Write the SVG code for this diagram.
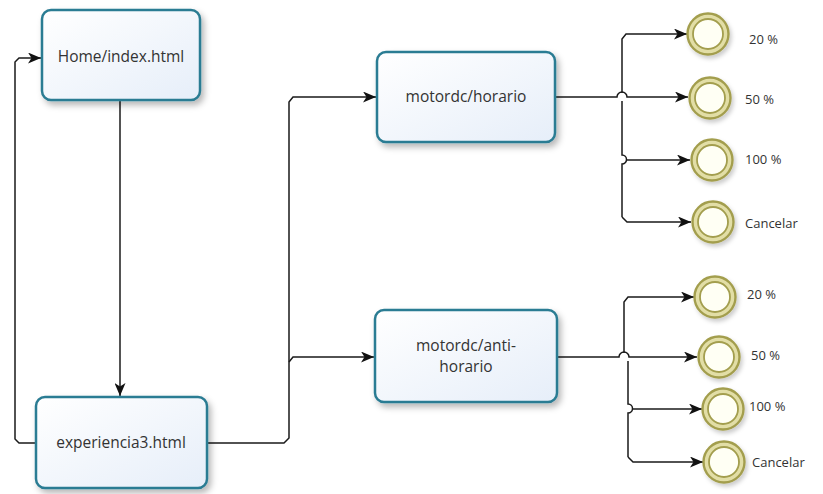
<svg xmlns="http://www.w3.org/2000/svg" width="823" height="494" viewBox="0 0 823 494">
  <defs>
    <linearGradient id="taskFill" x1="0" y1="0" x2="1" y2="1">
      <stop offset="0" stop-color="#ffffff"/>
      <stop offset="1" stop-color="#e6eef9"/>
    </linearGradient>
    <filter id="shadow" x="-20%" y="-20%" width="140%" height="150%">
      <feDropShadow dx="3" dy="4" stdDeviation="3" flood-color="#000" flood-opacity="0.28"/>
    </filter>
    <filter id="softShadow" x="-30%" y="-30%" width="160%" height="160%">
      <feDropShadow dx="2" dy="3" stdDeviation="2" flood-color="#000" flood-opacity="0.2"/>
    </filter>
    <marker id="arrow" viewBox="0 0 13 11" refX="13" refY="5.5" markerWidth="13" markerHeight="11" markerUnits="userSpaceOnUse" orient="auto">
      <path d="M0,0 L13,5.5 L0,11 L3.5,5.5 z" fill="#111"/>
    </marker>
  </defs>
  <style>
    .task { fill: url(#taskFill); stroke: #2b7c93; stroke-width: 2.5; filter: url(#shadow); }
    .label { font-family: "Open Sans", "Noto Sans", sans-serif; font-size: 15.5px; fill: #333; text-anchor: middle; }
    .endLabel { font-family: "Open Sans", "Noto Sans", sans-serif; font-size: 13px; fill: #333; }
    .ringOuter { fill: #e2dea6; stroke: #a39e4e; stroke-width: 2.4; filter: url(#softShadow); }
    .ringInner { fill: #fffff4; stroke: #a39e4e; stroke-width: 1.8; }
    .flow { fill: none; stroke: #1a1a1a; stroke-width: 1.5; }
    .flowArrow { fill: none; stroke: #1a1a1a; stroke-width: 1.5; marker-end: url(#arrow); }
  </style>

  <rect width="823" height="494" fill="#ffffff"/>

  <!-- sequence flows -->
  <g id="connectors">
    <!-- home to experiencia3 -->
    <path class="flowArrow" d="M120,100 V396"/>
    <!-- experiencia3 back to home -->
    <path class="flowArrow" d="M36,443 H19 L15,439 V62 L19,58 H41"/>
    <!-- experiencia3 to motor pages -->
    <path class="flowArrow" d="M207,443 H284 L289,438 V102 L293,97 H376"/>
    <path class="flowArrow" d="M289,362 L293,357 H374"/>

    <!-- motordc/horario outcomes -->
    <path class="flowArrow" d="M555,97 H617 A5,5 0 0 1 627,97 H688"/>
    <path class="flowArrow" d="M622,93 V39 L626,34 H687"/>
    <path class="flow" d="M622,101 V155 A4.5,4.5 0 0 1 622,164 V217"/>
    <path class="flowArrow" d="M622,217 L627,222 H691"/>
    <path class="flowArrow" d="M626,160 H690"/>

    <!-- motordc/anti-horario outcomes -->
    <path class="flowArrow" d="M557,357 H619 A5,5 0 0 1 629,357 H697"/>
    <path class="flowArrow" d="M624,353 V302 L628,297 H694"/>
    <path class="flow" d="M628,361 V404 A4.5,4.5 0 0 1 628,413 V457"/>
    <path class="flowArrow" d="M628,457 L633,462 H703"/>
    <path class="flowArrow" d="M632,409 H702"/>
  </g>

  <!-- pages -->
  <g id="home">
    <rect class="task" x="42" y="10" width="158" height="90" rx="9"/>
    <text class="label" x="121" y="62">Home/index.html</text>
  </g>
  <g id="experiencia3">
    <rect class="task" x="36" y="397" width="171" height="91" rx="9"/>
    <text class="label" x="121" y="448">experiencia3.html</text>
  </g>
  <g id="horario">
    <rect class="task" x="377" y="52" width="178" height="90" rx="9"/>
    <text class="label" x="466" y="102">motordc/horario</text>
  </g>
  <g id="antihorario">
    <rect class="task" x="375" y="310" width="182" height="92" rx="9"/>
    <text class="label" x="466" y="351">motordc/anti-</text>
    <text class="label" x="466" y="372">horario</text>
  </g>

  <!-- end events, clockwise -->
  <g id="h20">
    <circle class="ringOuter" cx="708" cy="34" r="20.5"/>
    <circle class="ringInner" cx="708" cy="34" r="15"/>
    <text class="endLabel" x="749" y="44">20 %</text>
  </g>
  <g id="h50">
    <circle class="ringOuter" cx="710" cy="98" r="20.5"/>
    <circle class="ringInner" cx="710" cy="98" r="15"/>
    <text class="endLabel" x="745" y="104">50 %</text>
  </g>
  <g id="h100">
    <circle class="ringOuter" cx="712" cy="160" r="20.5"/>
    <circle class="ringInner" cx="712" cy="160" r="15"/>
    <text class="endLabel" x="745" y="164">100 %</text>
  </g>
  <g id="hCancel">
    <circle class="ringOuter" cx="713" cy="222" r="20.5"/>
    <circle class="ringInner" cx="713" cy="222" r="15"/>
    <text class="endLabel" x="745" y="228">Cancelar</text>
  </g>

  <!-- end events, counter-clockwise -->
  <g id="a20">
    <circle class="ringOuter" cx="715" cy="297" r="20.5"/>
    <circle class="ringInner" cx="715" cy="297" r="15"/>
    <text class="endLabel" x="747" y="299">20 %</text>
  </g>
  <g id="a50">
    <circle class="ringOuter" cx="719" cy="357" r="20.5"/>
    <circle class="ringInner" cx="719" cy="357" r="15"/>
    <text class="endLabel" x="751" y="360">50 %</text>
  </g>
  <g id="a100">
    <circle class="ringOuter" cx="723" cy="409" r="20.5"/>
    <circle class="ringInner" cx="723" cy="409" r="15"/>
    <text class="endLabel" x="749" y="411">100 %</text>
  </g>
  <g id="aCancel">
    <circle class="ringOuter" cx="724" cy="462" r="20.5"/>
    <circle class="ringInner" cx="724" cy="462" r="15"/>
    <text class="endLabel" x="752" y="467">Cancelar</text>
  </g>
</svg>
